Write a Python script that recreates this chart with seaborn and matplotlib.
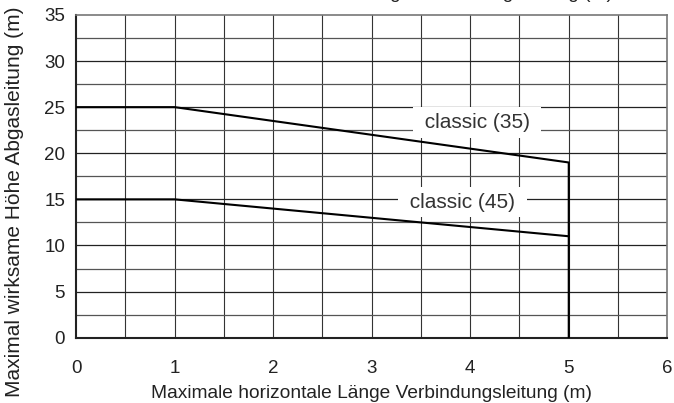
import numpy as np
import matplotlib
matplotlib.use('Agg')
import matplotlib.pyplot as plt
import seaborn as sns

# curve data
labels = ['classic (35)', 'classic (45)']
x_c35 = [0, 1, 5, 5]
y_c35 = [25, 25, 19, 0]
x_c45 = [0, 1, 5]
y_c45 = [15, 15, 11]
label_pos = [(4.07, 23.3), (3.92, 14.7)]

x_ticks = [0, 1, 2, 3, 4, 5, 6]
y_ticks = [0, 5, 10, 15, 20, 25, 30, 35]

sns.set_style('white')
plt.rcParams['font.family'] = ['Liberation Sans', 'DejaVu Sans']

fig, ax = plt.subplots(figsize=(6.74, 4.03), dpi=100)
fig.subplots_adjust(left=0.113, right=0.99, top=0.963, bottom=0.162)

# grid
for xv in np.arange(0.5, 6, 0.5):
    ax.axvline(xv, color='#333333', lw=0.8, zorder=1)
for yv in np.arange(2.5, 35, 2.5):
    col = '#222222' if yv % 5 == 0 else '#555555'
    ax.axhline(yv, color=col, lw=0.9, zorder=1)

sns.lineplot(x=x_c35, y=y_c35, sort=False, estimator=None, color='black', lw=1.5, ax=ax, zorder=3)
sns.lineplot(x=x_c45, y=y_c45, sort=False, estimator=None, color='black', lw=1.5, ax=ax, zorder=3)

for lab, (lx, ly) in zip(labels, label_pos):
    ax.text(lx, ly, ' ' + lab + ' ', ha='center', va='center', fontsize=15, color='#333333',
            bbox=dict(boxstyle='square,pad=0.28', facecolor='white', edgecolor='none'), zorder=4)

ax.set_xlim(0, 6)
ax.set_ylim(0, 35)
ax.set_xticks(x_ticks)
ax.set_yticks(y_ticks)
ax.tick_params(axis='both', labelsize=13.5, length=4, width=1, color='#333333', labelcolor='#222222', direction='out')
ax.tick_params(axis='x', pad=12)
ax.tick_params(axis='y', pad=4)
for side in ['left', 'bottom']:
    ax.spines[side].set_color('#222222')
    ax.spines[side].set_linewidth(1.5)
for side in ['top', 'right']:
    ax.spines[side].set_color('#777777')
    ax.spines[side].set_linewidth(1.2)

ax.set_xlabel('Maximale horizontale Länge Verbindungsleitung (m)', fontsize=13.8, color='#222222', labelpad=6)
# y label is centred on the whole figure height
fig.text(0.022, 0.5, 'Maximal wirksame Höhe Abgasleitung (m)', rotation=90, ha='center', va='center',
         fontsize=15, color='#222222')

# cut-off duplicate title at the top edge
fig.text(0.91, 1.004, 'Maximale horizontale Länge Verbindungsleitung (m)', ha='right', va='baseline',
         fontsize=13.8, color='#222222')

fig.savefig('out.png', dpi=100)
